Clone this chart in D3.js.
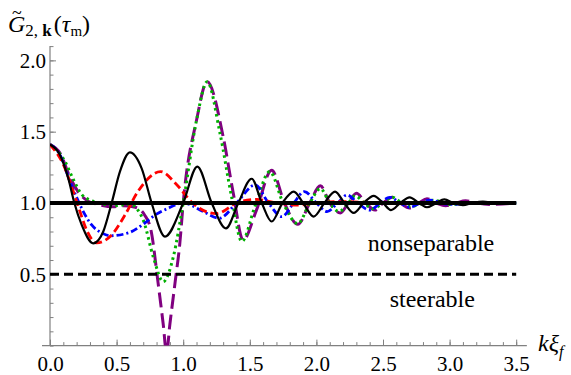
<!DOCTYPE html>
<html>
<head>
<meta charset="utf-8">
<script src="https://cdn.jsdelivr.net/npm/d3@7"></script>
<style>
  body { margin: 0; background: #fff; }
  svg { display: block; }
  svg text { font-family: "Liberation Serif" !important; }
</style>
</head>
<body>
<svg id="chart" width="571" height="375"></svg>
<script>
// values: [kξ_f, G]
const blackCurve = [[0,1.41],[0.075,1.337],[0.138,1.17],[0.183,1.0],[0.238,0.846],[0.325,0.717],[0.4,0.8],[0.463,1.0],[0.525,1.22],[0.6,1.355],[0.688,1.243],[0.763,1.0],[0.863,0.764],[1.0,1.0],[1.106,1.255],[1.214,1.0],[1.321,0.822],[1.414,1.0],[1.514,1.17],[1.59,1.0],[1.664,0.87],[1.745,1.0],[1.83,1.08],[1.9,1.0],[1.98,0.905],[2.06,1.0],[2.14,1.08],[2.21,1.0],[2.28,0.93],[2.355,1.0],[2.43,1.05],[2.5,1.0],[2.56,0.95],[2.63,1.0],[2.7,1.04],[2.77,1.0],[2.83,0.97],[2.9,1.0],[2.96,1.025],[3.03,1.0],[3.1,0.985],[3.17,1.0],[3.25,1.01],[3.35,1.0],[3.5,1.0]];
const redCurve = [[0,1.41],[0.1,1.27],[0.175,1.08],[0.225,0.94],[0.275,0.81],[0.35,0.72],[0.463,0.776],[0.563,0.916],[0.66,1.08],[0.83,1.22],[0.95,1.13],[1.07,1.0],[1.25,0.925],[1.4,1.0],[1.55,1.025],[1.7,1.0],[1.85,0.985],[2.0,1.0],[2.2,1.01],[2.5,1.0],[3.5,1.0]];
const blueCurve = [[0,1.41],[0.075,1.337],[0.15,1.15],[0.2,1.04],[0.25,0.94],[0.313,0.846],[0.388,0.79],[0.45,0.77],[0.588,0.79],[0.71,0.858],[0.79,0.916],[0.88,0.96],[1.0,1.0],[1.15,0.94],[1.27,0.893],[1.4,1.0],[1.54,1.126],[1.64,1.0],[1.74,0.904],[1.83,1.0],[1.91,1.08],[2.0,1.0],[2.08,0.94],[2.16,1.0],[2.23,1.056],[2.31,1.0],[2.4,0.95],[2.48,1.0],[2.55,1.04],[2.63,1.0],[2.7,0.97],[2.78,1.0],[2.85,1.02],[3.0,0.99],[3.2,1.0],[3.5,1.0]];
const greenCurve = [[0,1.41],[0.113,1.29],[0.175,1.165],[0.238,1.06],[0.3,1.02],[0.375,1.0],[0.475,0.98],[0.6,0.99],[0.7,0.88],[0.776,0.62],[0.85,0.448],[0.926,0.623],[1.0,1.0],[1.1,1.58],[1.18,1.85],[1.276,1.49],[1.364,1.04],[1.44,0.73],[1.54,0.98],[1.65,1.22],[1.75,1.0],[1.86,0.855],[1.95,1.0],[2.03,1.1],[2.1,1.0],[2.17,0.94],[2.24,1.0],[2.29,1.05],[2.36,1.0],[2.42,0.96],[2.5,1.0],[2.57,1.04],[2.64,1.0],[2.7,0.975],[2.8,1.0],[2.88,1.02],[3.0,0.99],[3.2,1.0],[3.5,1.0]];
const purpleCurve = [[0,1.41],[0.075,1.35],[0.15,1.18],[0.21,1.08],[0.29,1.01],[0.36,0.99],[0.475,0.974],[0.55,0.98],[0.64,0.97],[0.71,0.916],[0.76,0.8],[0.81,0.45],[0.85,0.15],[0.875,-0.05],[0.9,0.15],[0.94,0.45],[0.975,0.72],[1.0,1.0],[1.1,1.58],[1.18,1.85],[1.3,1.465],[1.376,1.068],[1.45,0.74],[1.55,0.95],[1.664,1.23],[1.76,1.0],[1.86,0.85],[1.95,1.0],[2.03,1.12],[2.1,1.0],[2.18,0.93],[2.24,1.0],[2.3,1.068],[2.37,1.0],[2.44,0.95],[2.5,1.0],[2.57,1.04],[2.63,1.0],[2.7,0.965],[2.77,1.0],[2.83,1.03],[2.9,1.0],[2.97,0.98],[3.05,1.0],[3.12,1.015],[3.2,1.0],[3.3,0.99],[3.5,1.0]];
const refLines = [1.0, 0.5];
const xTicks = [0, 0.5, 1, 1.5, 2, 2.5, 3, 3.5];
const yTicks = [0.5, 1.0, 1.5, 2.0];
const regionLabels = ["nonseparable", "steerable"];

const svg = d3.select("#chart");
const x = d3.scaleLinear().domain([0, 3.5]).range([50, 516.2]);
const y = d3.scaleLinear().domain([0, 2.1]).range([345.6, 46.1]);

// serif text helper
const serifText = sel => sel.attr("font-family", "Liberation Serif").style("font-family", '"Liberation Serif"');

svg.append("defs").append("clipPath").attr("id", "plot")
  .append("rect")
  .attr("x", x(0)).attr("y", y(2.1))
  .attr("width", x(3.5) - x(0) + 2).attr("height", y(0) - y(2.1));

const axisColor = "#808080";

// minor ticks
const minorX = d3.range(0, 3.51, 0.1).map(v => +v.toFixed(2));
const minorY = d3.range(0, 2.11, 0.1).map(v => +v.toFixed(2));

svg.append("g").attr("transform", `translate(0,${y(0)})`)
  .call(d3.axisBottom(x).tickValues(minorX).tickSize(-3.5).tickFormat(""))
  .call(g => g.select(".domain").remove());
svg.append("g").attr("transform", `translate(${x(0)},0)`)
  .call(d3.axisLeft(y).tickValues(minorY).tickSize(-3.5).tickFormat(""))
  .call(g => g.select(".domain").remove());

const xAxis = svg.append("g").attr("transform", `translate(0,${y(0)})`)
  .call(d3.axisBottom(x).tickValues(xTicks).tickSize(-6).tickPadding(10).tickFormat(d3.format(".1f")));
xAxis.select(".domain").remove();

const yAxis = svg.append("g").attr("transform", `translate(${x(0)},0)`)
  .call(d3.axisLeft(y).tickValues(yTicks).tickSize(-6).tickPadding(4).tickFormat(d3.format(".1f")));
yAxis.select(".domain").remove();

svg.selectAll("g").attr("font-family", null).attr("font-size", null);
svg.selectAll(".tick line").attr("stroke", axisColor).attr("stroke-width", 1);
svg.selectAll(".tick text").attr("fill", "#000").attr("font-size", 21).style("font-size", "21px")
  .call(serifText);

// axis lines
svg.append("line")
  .attr("x1", x(-0.06)).attr("x2", x(3.58))
  .attr("y1", y(0)).attr("y2", y(0))
  .attr("stroke", axisColor).attr("stroke-width", 1.2);
svg.append("line")
  .attr("x1", x(0)).attr("x2", x(0))
  .attr("y1", y(0)).attr("y2", y(2.1))
  .attr("stroke", axisColor).attr("stroke-width", 1.2);

const line = d3.line()
  .x(d => x(d[0]))
  .y(d => y(d[1]))
  .curve(d3.curveMonotoneX);

const plot = svg.append("g").attr("clip-path", "url(#plot)");

const series = [
  { data: purpleCurve, color: "#800080", width: 3, dash: "15,6" },
  { data: greenCurve, color: "#00b000", width: 3, dash: "2.5,3.5" },
  { data: blueCurve, color: "#0000ff", width: 2.8, dash: "7,3,2,3" },
  { data: redCurve, color: "#ff0000", width: 2.8, dash: "8,4" },
  { data: blackCurve, color: "#000", width: 2.2, dash: null }
];

plot.selectAll("path.curve")
  .data(series)
  .enter()
  .append("path")
  .attr("class", "curve")
  .attr("d", d => line(d.data))
  .attr("fill", "none")
  .attr("stroke", d => d.color)
  .attr("stroke-width", d => d.width)
  .attr("stroke-dasharray", d => d.dash);

// reference lines y = 1 and y = 0.5
svg.append("line")
  .attr("x1", x(0)).attr("x2", x(3.5))
  .attr("y1", y(refLines[0])).attr("y2", y(refLines[0]))
  .attr("stroke", "#000").attr("stroke-width", 4);
svg.append("line")
  .attr("x1", x(0)).attr("x2", x(3.5))
  .attr("y1", y(refLines[1])).attr("y2", y(refLines[1]))
  .attr("stroke", "#000").attr("stroke-width", 3)
  .attr("stroke-dasharray", "9,5");

// region labels
svg.append("text").attr("x", x(2.86)).attr("y", y(0.66))
  .attr("text-anchor", "middle").style("font-size", "24px").call(serifText)
  .text(regionLabels[0]);
svg.append("text").attr("x", x(2.87)).attr("y", y(0.27))
  .attr("text-anchor", "middle").style("font-size", "24px").call(serifText)
  .text(regionLabels[1]);

// y label  G~_{2,k}(τ_m), tilde drawn as its own text above the G
svg.append("text").attr("x", 12).attr("y", 19)
  .style("font-size", "18px").call(serifText).text("~");
const yl = svg.append("text").attr("x", 8).attr("y", 32)
  .style("font-size", "24px").call(serifText);
yl.append("tspan").style("font-style", "italic").text("G");
yl.append("tspan").attr("dy", 4).style("font-size", "17px").text("2, ");
yl.append("tspan").style("font-size", "17px").style("font-weight", "bold").text("k");
yl.append("tspan").attr("dy", -4).attr("dx", 2).text("(");
yl.append("tspan").style("font-style", "italic").text("τ");
yl.append("tspan").attr("dy", 4).style("font-size", "15px").text("m");
yl.append("tspan").attr("dy", -4).text(")");

// x label  kξ_f
const xl = svg.append("text").attr("x", 538).attr("y", 351)
  .style("font-size", "24px").call(serifText);
xl.append("tspan").style("font-style", "italic").text("kξ");
xl.append("tspan").attr("dy", 6).style("font-size", "16px").style("font-style", "italic").text("f");
</script>
</body>
</html>
